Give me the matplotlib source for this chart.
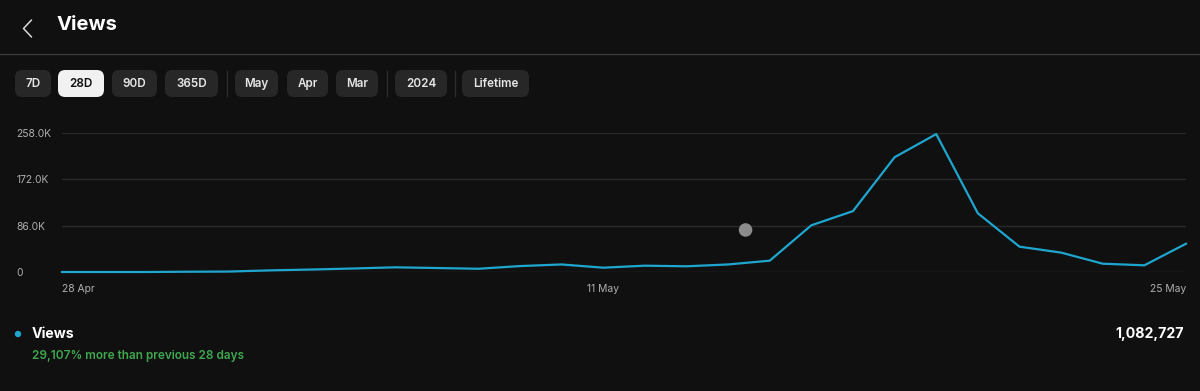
import matplotlib
matplotlib.use("Agg")
import matplotlib.pyplot as plt
from matplotlib.patches import FancyBboxPatch, Ellipse
from matplotlib.lines import Line2D

plt.rcParams['font.family'] = ['Inter', 'DejaVu Sans']

# ---- data ----
days = list(range(28))  # 28 Apr .. 25 May
views = [0, 0, 0, 500, 800, 3000, 4600, 6500, 8700, 7400, 6000, 11000, 14000, 8000,
         11700, 10600, 14000, 21000, 86700, 113000, 213000, 256000, 109000, 47000,
         36000, 15400, 12400, 52500]
y_ticks = [0, 86000, 172000, 258000]
y_tick_labels = ["0", "86.0K", "172.0K", "258.0K"]
x_ticks = [0, 13, 27]
x_tick_labels = ["28 Apr", "11 May", "25 May"]
buttons = ["7D", "28D", "90D", "365D", "May", "Apr", "Mar", "2024", "Lifetime"]
selected_button = "28D"
title = "Views"
legend_label = "Views"
total_label = "1,082,727"
change_label = "29,107% more than previous 28 days"
cursor_pos = (16.42, 78000)

BG = "#101010"
LINE = "#1fa6cf"
GREEN = "#3fa84f"

W, H = 1200, 391
fig = plt.figure(figsize=(W / 100, H / 100), dpi=100, facecolor=BG)

def fx(px):
    return px / W

def fy(py):
    return 1 - py / H

# header
fig.add_artist(Line2D([fx(31.5), fx(23.5), fx(31.5)], [fy(20), fy(28.5), fy(37)],
                      color="#d8d8d8", lw=1.1, solid_capstyle="round"))
fig.text(fx(57), fy(25), title, color="white", fontsize=14.5, fontweight="bold",
         va="center", ha="left")
fig.add_artist(Line2D([0, 1], [fy(54), fy(54)], color="#3a3a3a", lw=1.0))

# buttons
btn_boxes = [(15, 51), (58, 104), (112, 157), (165, 218), (235, 278), (287, 328),
             (336, 378), (395, 447), (462, 529)]
separators = [227, 387, 455]
by0, by1 = 70, 97
for name, (x0, x1) in zip(buttons, btn_boxes):
    sel = name == selected_button
    fc = "#f1f1f1" if sel else "#272727"
    tc = "#0f0f0f" if sel else "#e6e6e6"
    p = FancyBboxPatch((fx(x0), fy(by1)), fx(x1 - x0), (by1 - by0) / H,
                       boxstyle="round,pad=0,rounding_size=0.006",
                       transform=fig.transFigure, facecolor=fc, edgecolor="none",
                       mutation_aspect=W / H)
    fig.add_artist(p)
    fig.text(fx((x0 + x1) / 2), fy((by0 + by1) / 2 + 0.5), name, color=tc,
             fontsize=8.4, fontweight="semibold", ha="center", va="center")
for sx in separators:
    fig.add_artist(Line2D([fx(sx), fx(sx)], [fy(71), fy(96)], color="#2c2c2c", lw=1))

# chart
ax = fig.add_axes([fx(62), fy(272), fx(1186 - 62), (272 - 133) / H])
ax.set_facecolor(BG)
ax.plot(days, views, color=LINE, lw=1.6, clip_on=False, solid_joinstyle="round", zorder=3)
ax.set_xlim(0, 27)
ax.set_ylim(0, 258000)
ax.set_yticks(y_ticks)
ax.set_yticklabels(y_tick_labels)
ax.set_xticks(x_ticks)
ax.set_xticklabels(x_tick_labels)
ax.grid(axis="y", color="#2a2a2a", lw=1.0)
ax.grid(axis="x", visible=False)
for s in ax.spines.values():
    s.set_visible(False)
ax.tick_params(axis="both", length=0, colors="#b0b0b0", labelsize=7.4)
ax.tick_params(axis="y", pad=33)
ax.tick_params(axis="x", pad=9)
for lab in ax.get_yticklabels():
    lab.set_ha("left")
xl = ax.get_xticklabels()
xl[0].set_ha("left")
xl[1].set_ha("center")
xl[2].set_ha("right")
ax.scatter([cursor_pos[0]], [cursor_pos[1]], s=95, color="#8c8c8c", zorder=4,
           clip_on=False, edgecolors="none")

# legend / summary
fig.add_artist(Ellipse((fx(18), fy(334)), 6.4 / W, 6.4 / H, transform=fig.transFigure,
                       facecolor=LINE, edgecolor="none"))
fig.text(fx(32), fy(334), legend_label, color="white", fontsize=10.2,
         fontweight="bold", ha="left", va="center")
fig.text(fx(1184), fy(334), total_label, color="white", fontsize=10.2,
         fontweight="bold", ha="right", va="center")
fig.text(fx(32), fy(356), change_label, color=GREEN, fontsize=8.5,
         fontweight="semibold", ha="left", va="center")

fig.savefig("out.png", dpi=100, facecolor=BG)
